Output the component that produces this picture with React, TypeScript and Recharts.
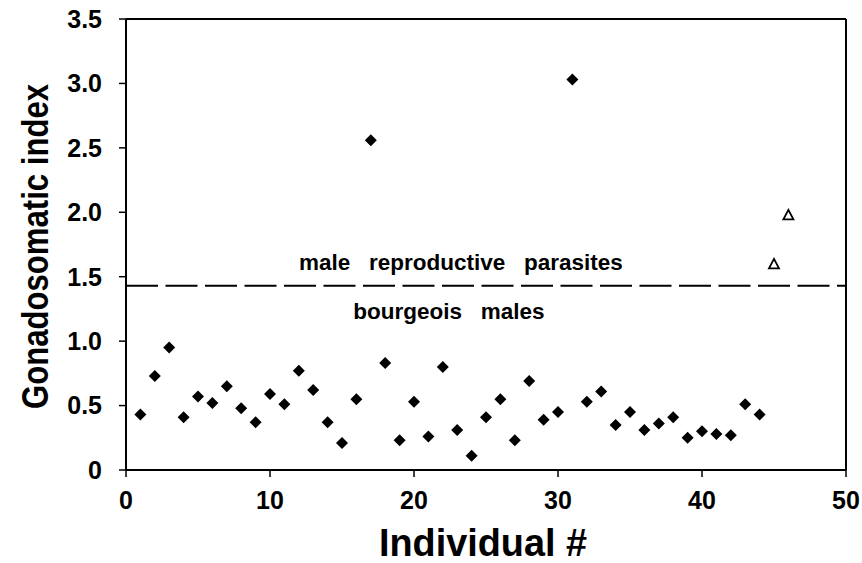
import { ScatterChart, Scatter, XAxis, YAxis, ReferenceLine, ReferenceDot } from "recharts";

const FONT = '"Liberation Sans", Arial, Helvetica, sans-serif';

// individuals 1..44 are bourgeois males, 45-46 are parasites
const bourgeoisGsi = [
  0.43, 0.73, 0.95, 0.41, 0.57, 0.52, 0.65, 0.48, 0.37, 0.59,
  0.51, 0.77, 0.62, 0.37, 0.21, 0.55, 2.56, 0.83, 0.23, 0.53,
  0.26, 0.80, 0.31, 0.11, 0.41, 0.55, 0.23, 0.69, 0.39, 0.45,
  3.03, 0.53, 0.61, 0.35, 0.45, 0.31, 0.36, 0.41, 0.25, 0.30,
  0.28, 0.27, 0.51, 0.43,
];
const parasiteIds = [45, 46];
const parasiteGsi = [1.6, 1.98];

const xTicks = [0, 10, 20, 30, 40, 50];
const yTicks = [0, 0.5, 1, 1.5, 2, 2.5, 3, 3.5];
const thresholdGsi = 1.43;

const notes = [
  { text: "male   reproductive   parasites", x: 23.26, y: 1.61 },
  { text: "bourgeois   males", x: 22.43, y: 1.23 },
];

const bourgeoisData = bourgeoisGsi.map((y, i) => ({ x: i + 1, y }));
const parasiteData = parasiteIds.map((x, i) => ({ x, y: parasiteGsi[i] }));

const Diamond = (props: any) => {
  const { cx, cy } = props;
  const r = 6;
  return <path d={`M${cx},${cy - r}L${cx + r},${cy}L${cx},${cy + r}L${cx - r},${cy}Z`} fill="#000" />;
};

const Triangle = (props: any) => {
  const { cx, cy } = props;
  return (
    <path
      d={`M${cx},${cy - 5}L${cx + 5},${cy + 4.5}L${cx - 5},${cy + 4.5}Z`}
      fill="#fff"
      stroke="#000"
      strokeWidth={1.8}
    />
  );
};

const tickStyle = { fill: "#000", fontSize: 25, fontWeight: 700, fontFamily: FONT };

export default function App() {
  return (
    <div style={{ position: "absolute", left: 0, top: 0, background: "#fff" }}>
      <ScatterChart width={862} height={563} margin={{ top: 19, right: 16, bottom: 0, left: 0 }}>
        <XAxis
          type="number"
          dataKey="x"
          domain={[0, 50]}
          ticks={xTicks}
          interval={0}
          height={93}
          tickSize={7}
          tickMargin={14}
          axisLine={{ stroke: "#000", strokeWidth: 2 }}
          tickLine={{ stroke: "#000", strokeWidth: 1.5 }}
          tick={tickStyle}
          label={{
            content: (p: any) => {
              const vb = p.viewBox;
              return (
                <text
                  x={vb.x + vb.width / 2 - 3}
                  y={vb.y + 86}
                  textAnchor="middle"
                  fontSize={38}
                  fontWeight={700}
                  fontFamily={FONT}
                  fill="#000"
                  textLength={208}
                  lengthAdjust="spacingAndGlyphs"
                >
                  Individual #
                </text>
              );
            },
          }}
        />
        <YAxis
          type="number"
          dataKey="y"
          domain={[0, 3.5]}
          ticks={yTicks}
          interval={0}
          width={126}
          tickSize={7}
          tickMargin={17}
          axisLine={{ stroke: "#000", strokeWidth: 2 }}
          tickLine={{ stroke: "#000", strokeWidth: 1.5 }}
          tick={tickStyle}
          tickFormatter={(v: number) => (v === 0 ? "0" : v.toFixed(1))}
          label={{
            content: (p: any) => {
              const vb = p.viewBox;
              const cx = vb.x + 35;
              const cy = vb.y + vb.height / 2 + 2;
              return (
                <text
                  x={cx}
                  y={cy}
                  transform={`rotate(-90, ${cx}, ${cy})`}
                  textAnchor="middle"
                  dominantBaseline="central"
                  fontSize={37}
                  fontWeight={700}
                  fontFamily={FONT}
                  fill="#000"
                  textLength={325}
                  lengthAdjust="spacingAndGlyphs"
                >
                  Gonadosomatic index
                </text>
              );
            },
          }}
        />
        <ReferenceLine y={3.5} stroke="#000" strokeWidth={2} />
        <ReferenceLine x={50} stroke="#000" strokeWidth={2} />
        <ReferenceLine y={thresholdGsi} stroke="#000" strokeWidth={2} strokeDasharray="32 7.5" />
        {notes.map((n) => (
          <ReferenceDot
            key={n.text}
            x={n.x}
            y={n.y}
            r={0}
            fill="none"
            stroke="none"
            label={{
              content: (p: any) => {
                const vb = p.viewBox;
                return (
                  <text
                    x={vb.x + vb.width / 2}
                    y={vb.y + vb.height / 2}
                    textAnchor="middle"
                    dominantBaseline="central"
                    fontSize={22.5}
                    fontWeight={700}
                    fontFamily={FONT}
                    fill="#000"
                    style={{ whiteSpace: "pre" }}
                  >
                    {n.text}
                  </text>
                );
              },
            }}
          />
        ))}
        <Scatter data={bourgeoisData} shape={<Diamond />} isAnimationActive={false} />
        <Scatter data={parasiteData} shape={<Triangle />} isAnimationActive={false} />
      </ScatterChart>
    </div>
  );
}
